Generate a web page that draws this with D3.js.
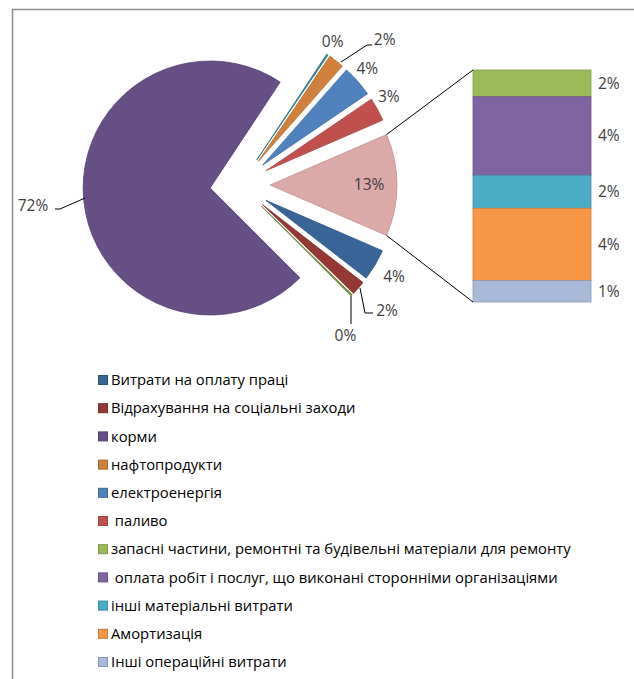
<!DOCTYPE html>
<meta charset="utf-8">
<script src="https://d3js.org/d3.v7.min.js"></script>
<html>
<head>
<style>
body { margin: 0; background: #fff; }
text { font-family: "Open Sans", "Noto Sans", sans-serif; }
</style>
</head>
<body>
<div id="chart"></div>
<script>

// pie points, clockwise after the "other" slice
var pieNames = ["Витрати на оплату праці", "Відрахування на соціальні заходи", "", "корми", "", "нафтопродукти", "електроенергія", " паливо"];
var pieValues = [4.0, 1.8, 0.2, 71.8, 0.2, 2.0, 4.0, 3.0];
var pieColors = ["#386497", "#953735", "#77933C", "#664F85", "#31859C", "#D0803A", "#4F81BD", "#C0504D"];

// second plot (bar), top to bottom
var barNames = ["запасні частини, ремонтні та будівельні матеріали для ремонту", " оплата робіт і послуг, що виконані сторонніми організаціями", "інші матеріальні витрати", "Амортизація", "Інші операційні витрати"];
var barValues = [1.5, 4.4, 1.85, 4.05, 1.2];
var barColors = ["#9BBB59", "#8064A2", "#4BACC6", "#F79646", "#A9B9D8"];
var otherColor = "#DBA9A8";

var width = 634, height = 679;
var svg = d3.select("#chart").append("svg")
    .attr("width", width)
    .attr("height", height);

// frame
svg.append("rect")
  .attr("x", 12.5).attr("y", 9.5)
  .attr("width", 700).attr("height", 700)
  .attr("fill", "none")
  .attr("stroke", "#8c8c8c")
  .attr("stroke-width", 1.5);

var otherTotal = d3.sum(barValues);
var total = d3.sum(pieValues) + otherTotal;
var pct = function(v) { return Math.round(v / total * 100) + "%"; };

var cx = 240, cy = 185, r = 127, explode = 30;
var deg = Math.PI / 180;

// angle scale: the "other" slice is centred at 3 o'clock
var otherHalf = otherTotal / total * 180;
var ang = d3.scaleLinear().domain([0, total]).range([(90 + otherHalf) * deg, (90 + otherHalf + 360) * deg]);

var slices = [];
var acc = 0;
pieValues.forEach(function(v, i) {
  slices.push({v: v, name: pieNames[i], color: pieColors[i], a0: ang(acc), a1: ang(acc + v)});
  acc += v;
});
slices.push({v: otherTotal, name: "other", color: otherColor, a0: ang(acc), a1: ang(acc + otherTotal)});

var arc = d3.arc().innerRadius(0).outerRadius(r);

// d3 angles: 0 at 12 o'clock clockwise; convert to screen
function dir(a) { return [Math.sin(a), -Math.cos(a)]; }

slices.forEach(function(s) {
  var m = (s.a0 + s.a1) / 2, d = dir(m);
  s.ox = cx + explode * d[0];
  s.oy = cy + explode * d[1];
  s.mid = m;
});

svg.append("g").selectAll("path")
  .data(slices)
  .enter().append("path")
    .attr("transform", function(d) { return "translate(" + d.ox + "," + d.oy + ")"; })
    .attr("d", function(d) { return arc({startAngle: d.a0, endAngle: d.a1}); })
    .attr("fill", function(d) { return d.color; })
    .attr("stroke", function(d) { return d3.color(d.color).darker(0.4); })
    .attr("stroke-width", 0.8);

// bar of the "other" slice
var barX = 473, barW = 118;
var y = d3.scaleLinear().domain([0, otherTotal]).range([70, 302]);
var stack = [];
var b = 0;
barValues.forEach(function(v, i) {
  stack.push({v: v, y0: b, y1: b + v, color: barColors[i]});
  b += v;
});

svg.append("g").selectAll("rect")
  .data(stack)
  .enter().append("rect")
    .attr("x", barX)
    .attr("y", function(d) { return y(d.y0); })
    .attr("width", barW)
    .attr("height", function(d) { return y(d.y1) - y(d.y0); })
    .attr("fill", function(d) { return d.color; })
    .attr("stroke", function(d) { return d3.color(d.color).darker(0.5); })
    .attr("stroke-width", 0.8);

svg.append("g").selectAll("text")
  .data(stack)
  .enter().append("text")
    .attr("x", barX + barW + 7)
    .attr("y", function(d) { return (y(d.y0) + y(d.y1)) / 2; })
    .attr("dy", "0.35em")
    .attr("font-size", 15.5)
    .attr("fill", "#404040")
    .text(function(d) { return pct(d.v); });

// connector lines
var other = slices[slices.length - 1];
[[other.a0, 0], [other.a1, otherTotal]].forEach(function(p) {
  var d = dir(p[0]);
  svg.append("line")
    .attr("x1", other.ox + r * d[0]).attr("y1", other.oy + r * d[1])
    .attr("x2", barX).attr("y2", y(p[1]))
    .attr("stroke", "#000").attr("stroke-width", 1);
});

// pie labels, nudged where Excel moved them and drew a leader
var nudge = {
  1: {dx: 12, dy: 8, leader: [[360, 288], [365, 313], [373, 313]]},
  2: {dx: -22, dy: 25, leader: [[351, 296], [351, 324]]},
  3: {dx: -6, dy: 0, leader: [[85, 198], [60, 209], [55, 209]]},
  4: {dx: -7, dy: 5},
  5: {dx: 35, dy: -4, leader: [[341, 62], [367, 45], [372, 45]]},
  6: {dx: -7, dy: 2},
  7: {dx: -8, dy: -2}
};

slices.forEach(function(s, i) {
  var d = dir(s.mid), lx, ly;
  if (s.name === "other") {
    lx = s.ox + r * 0.78 * d[0];
    ly = s.oy + r * 0.78 * d[1];
  } else {
    var lr = r + 22;
    if (s.v > 50) lr = r + 45;
    lx = s.ox + lr * d[0];
    ly = s.oy + lr * d[1];
    var n = nudge[i];
    if (n) {
      lx += n.dx; ly += n.dy;
      if (n.leader) {
        svg.append("path")
          .attr("d", d3.line()(n.leader))
          .attr("fill", "none")
          .attr("stroke", "#000")
          .attr("stroke-width", 1);
      }
    }
  }
  svg.append("text")
    .attr("x", lx).attr("y", ly)
    .attr("dy", "0.35em")
    .attr("text-anchor", "middle")
    .attr("font-size", 15.5)
    .attr("fill", "#404040")
    .text(pct(s.v));
});

// legend
var legendItems = [];
pieNames.forEach(function(n, i) { if (n !== "") legendItems.push({name: n, color: pieColors[i]}); });
barNames.forEach(function(n, i) { legendItems.push({name: n, color: barColors[i]}); });

var lg = svg.append("g").selectAll("g")
  .data(legendItems)
  .enter().append("g")
    .attr("transform", function(d, i) { return "translate(98," + (380 + i * 28.2) + ")"; });

lg.append("rect")
  .attr("x", 0.5).attr("y", -4.5)
  .attr("width", 9).attr("height", 9)
  .attr("fill", function(d) { return d.color; })
  .attr("stroke", function(d) { return d3.color(d.color).darker(0.6); })
  .attr("stroke-width", 1);

lg.append("text")
  .attr("x", 13)
  .attr("dy", "0.35em")
  .attr("font-size", 14.8)
  .attr("fill", "#000")
  .style("white-space", "pre")
  .text(function(d) { return d.name; });

</script>
</body>
</html>
